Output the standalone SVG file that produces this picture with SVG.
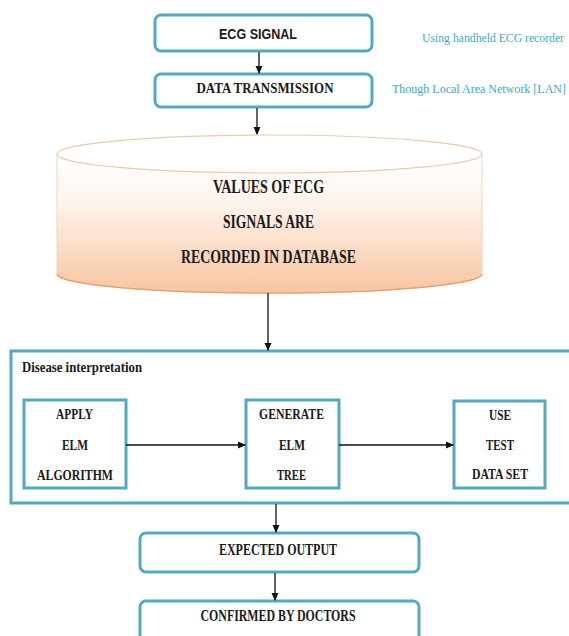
<svg xmlns="http://www.w3.org/2000/svg" width="569" height="636" viewBox="0 0 569 636">
<style>
.box{fill:#fff;stroke:#52a9c2;stroke-width:3}
.sbox{fill:#fff;stroke:#52a9c2;stroke-width:3}
.t{font-family:"Liberation Serif",serif;font-weight:bold;fill:#1a1a1a;text-anchor:middle}
.s{font-family:"Liberation Sans",sans-serif;font-weight:bold;fill:#1a1a1a;text-anchor:middle}
.note{font-family:"Liberation Serif",serif;fill:#3aaac6;font-size:12px}
.con{stroke:#111;stroke-width:1.3;fill:none;marker-end:url(#arr)}
</style>
<defs>
<marker id="arr" markerWidth="8" markerHeight="8" refX="7" refY="4" orient="auto" markerUnits="userSpaceOnUse">
<path d="M0,0.5 L8,4 L0,7.5 Z" fill="#111"/>
</marker>
<linearGradient id="cyl" x1="0" y1="0" x2="0" y2="1">
<stop offset="0" stop-color="#ffffff"/>
<stop offset="0.35" stop-color="#fff4ec"/>
<stop offset="1" stop-color="#f8c5a0"/>
</linearGradient>
</defs>
<rect width="569" height="636" fill="#fff"/>

<g id="ecg-signal">
<rect class="box" x="155" y="15" width="217" height="36" rx="6"/>
<text class="s" x="258" y="39" font-size="14" textLength="78" lengthAdjust="spacingAndGlyphs">ECG SIGNAL</text>
</g>
<g id="data-transmission">
<rect class="box" x="155" y="74" width="217" height="33" rx="6"/>
<text class="t" x="265" y="93" font-size="15" textLength="137" lengthAdjust="spacingAndGlyphs">DATA TRANSMISSION</text>
</g>
<g id="note-ecg">
<text class="note" x="422" y="42" textLength="142" lengthAdjust="spacingAndGlyphs">Using handheld ECG recorder</text>
</g>
<g id="note-lan">
<text class="note" x="392" y="93" textLength="174" lengthAdjust="spacingAndGlyphs">Though Local  Area Network [LAN]</text>
</g>

<g id="database">
<path d="M57,154 L57,274 A212.5,19 0 0 0 482,274 L482,154 Z" fill="url(#cyl)" stroke="#f0d2bb" stroke-width="1"/>
<path d="M57,274 A212.5,19 0 0 0 482,274" fill="none" stroke="#e3a272" stroke-width="1.5"/>
<ellipse cx="269.5" cy="154" rx="212.5" ry="19" fill="#fff" stroke="#e8cbb2" stroke-width="1.2"/>
<text class="t" x="268.5" y="193" font-size="18" textLength="111" lengthAdjust="spacingAndGlyphs">VALUES OF ECG</text>
<text class="t" x="268.5" y="228" font-size="18" textLength="91" lengthAdjust="spacingAndGlyphs">SIGNALS ARE</text>
<text class="t" x="268.5" y="263" font-size="18" textLength="175" lengthAdjust="spacingAndGlyphs">RECORDED IN DATABASE</text>
</g>

<g id="disease-interpretation">
<rect class="sbox" x="11" y="351" width="580" height="152"/>
<text class="t" x="22" y="372" font-size="14.5" style="text-anchor:start" textLength="120" lengthAdjust="spacingAndGlyphs">Disease interpretation</text>
</g>
<g id="apply-elm">
<rect class="sbox" x="24" y="400" width="102" height="88"/>
<text class="t" x="74.5" y="419" font-size="15" textLength="37" lengthAdjust="spacingAndGlyphs">APPLY</text>
<text class="t" x="75" y="450" font-size="15" textLength="26" lengthAdjust="spacingAndGlyphs">ELM</text>
<text class="t" x="75" y="480" font-size="15" textLength="76" lengthAdjust="spacingAndGlyphs">ALGORITHM</text>
</g>
<g id="generate-elm">
<rect class="sbox" x="246" y="400" width="93" height="88"/>
<text class="t" x="291.5" y="419" font-size="15" textLength="65" lengthAdjust="spacingAndGlyphs">GENERATE</text>
<text class="t" x="292" y="450" font-size="15" textLength="26" lengthAdjust="spacingAndGlyphs">ELM</text>
<text class="t" x="291.5" y="480" font-size="15" textLength="29" lengthAdjust="spacingAndGlyphs">TREE</text>
</g>
<g id="use-test">
<rect class="sbox" x="454" y="401" width="91" height="87"/>
<text class="t" x="500" y="420" font-size="15" textLength="22" lengthAdjust="spacingAndGlyphs">USE</text>
<text class="t" x="500" y="450" font-size="15" textLength="28" lengthAdjust="spacingAndGlyphs">TEST</text>
<text class="t" x="500" y="479" font-size="15" textLength="56" lengthAdjust="spacingAndGlyphs">DATA SET</text>
</g>

<g id="expected-output">
<rect class="box" x="140" y="533" width="279" height="39" rx="6"/>
<text class="t" x="278" y="555" font-size="16" textLength="118" lengthAdjust="spacingAndGlyphs">EXPECTED OUTPUT</text>
</g>
<g id="confirmed">
<rect class="box" x="140" y="601" width="279" height="45" rx="6"/>
<text class="t" x="278" y="621" font-size="16" textLength="155" lengthAdjust="spacingAndGlyphs">CONFIRMED BY DOCTORS</text>
</g>

<g id="connectors">
<line class="con" x1="259" y1="52" x2="259" y2="73"/>
<line class="con" x1="257" y1="108" x2="257" y2="134"/>
<line class="con" x1="268" y1="293" x2="268" y2="350"/>
<line class="con" x1="126" y1="445" x2="245" y2="445"/>
<line class="con" x1="339" y1="445" x2="453" y2="445"/>
<line class="con" x1="276" y1="504" x2="276" y2="532"/>
<line class="con" x1="275" y1="573" x2="275" y2="600"/>
</g>
</svg>
